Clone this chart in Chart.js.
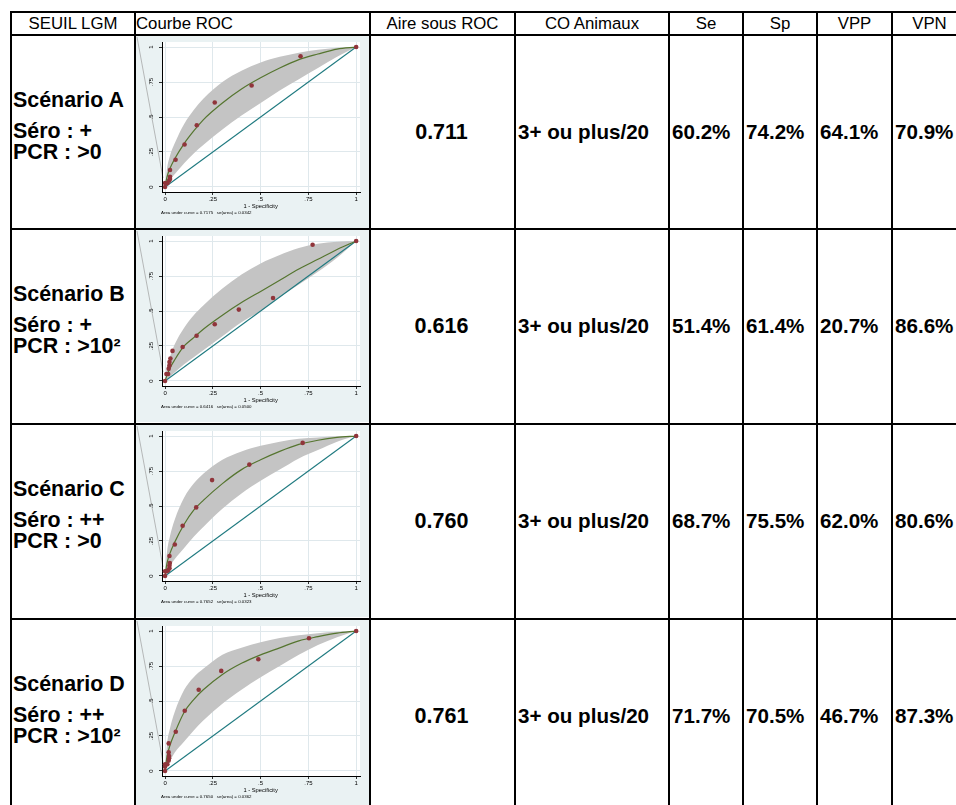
<!DOCTYPE html>
<html>
<head>
<meta charset="utf-8">
<script src="https://cdn.jsdelivr.net/npm/chart.js@4/dist/chart.umd.min.js"></script>
<style>
  body { margin:0; background:#fff; width:956px; height:805px; overflow:hidden; position:relative;
         font-family:"Liberation Sans", Arial, sans-serif; color:#000; }
  .hl { position:absolute; height:2px; background:#000; }
  .vl { position:absolute; width:2px; background:#000; }
  .t  { position:absolute; white-space:nowrap; }
  .hd { font-size:16.8px; height:22px; line-height:22px; }
  .bd { font-weight:bold; font-size:20.6px; line-height:22px; }
  .lb { font-weight:bold; font-size:21.4px; line-height:22px; }
  .au { font-weight:bold; font-size:21.5px; line-height:22px; }
  canvas { position:absolute; }
</style>
</head>
<body>
<script>
// ---- table content ----
const headers = ['SEUIL LGM', 'Courbe ROC', 'Aire sous ROC', 'CO Animaux', 'Se', 'Sp', 'VPP', 'VPN'];
const scenarios = ['Scénario A', 'Scénario B', 'Scénario C', 'Scénario D'];
const seroLabels = ['Séro : +', 'Séro : +', 'Séro : ++', 'Séro : ++'];
const pcrLabels = ['PCR : >0', 'PCR : >10²', 'PCR : >0', 'PCR : >10²'];
const aireROC = ['0.711', '0.616', '0.760', '0.761'];
const coAnimaux = ['3+ ou plus/20', '3+ ou plus/20', '3+ ou plus/20', '3+ ou plus/20'];
const seValues = ['60.2%', '51.4%', '68.7%', '71.7%'];
const spValues = ['74.2%', '61.4%', '75.5%', '70.5%'];
const vppValues = ['64.1%', '20.7%', '62.0%', '46.7%'];
const vpnValues = ['70.9%', '86.6%', '80.6%', '87.3%'];

// ---- ROC plots: empirical points, fitted curve and confidence band ----
const axisTickValues = [0, 0.25, 0.5, 0.75, 1];
const axisTickLabels = ['0', '.25', '.5', '.75', '1'];
const fitX = [0, 0.01, 0.025, 0.05, 0.1, 0.15, 0.2, 0.3, 0.4, 0.5, 0.6, 0.7, 0.8, 0.9, 1];
const diagX = [0, 1];
const diagY = [0, 1];

const ptsAx = [0, 0, 0.012, 0.021, 0.026, 0.026, 0.026, 0.055, 0.102, 0.166, 0.26, 0.453, 0.709, 1];
const ptsAy = [0, 0.028, 0.026, 0.045, 0.057, 0.073, 0.121, 0.194, 0.303, 0.441, 0.604, 0.725, 0.934, 1];
const fitAy  = [0, 0.07, 0.13, 0.2, 0.31, 0.4, 0.48, 0.6, 0.7, 0.78, 0.85, 0.91, 0.95, 0.985, 1];
const bandHiA = [0, 0.13, 0.22, 0.31, 0.45, 0.55, 0.63, 0.75, 0.83, 0.89, 0.93, 0.96, 0.98, 0.995, 1];
const bandLoA = [0, 0.02, 0.05, 0.09, 0.17, 0.24, 0.3, 0.41, 0.51, 0.6, 0.69, 0.77, 0.85, 0.93, 1];

const ptsBx = [0, 0.007, 0.016, 0.019, 0.023, 0.023, 0.028, 0.039, 0.092, 0.165, 0.26, 0.386, 0.565, 0.772, 1];
const ptsBy = [0, 0.05, 0.05, 0.088, 0.11, 0.135, 0.16, 0.215, 0.243, 0.323, 0.405, 0.51, 0.593, 0.973, 1];
const fitBy  = [0, 0.04, 0.09, 0.15, 0.25, 0.31, 0.37, 0.47, 0.56, 0.64, 0.72, 0.8, 0.87, 0.94, 1];
const bandHiB = [0, 0.1, 0.17, 0.26, 0.38, 0.47, 0.54, 0.66, 0.76, 0.84, 0.9, 0.95, 0.98, 0.995, 1];
const bandLoB = [0, 0.01, 0.03, 0.06, 0.12, 0.17, 0.22, 0.32, 0.42, 0.5, 0.6, 0.69, 0.78, 0.88, 1];

const ptsCx = [0, 0, 0.009, 0.016, 0.023, 0.023, 0.025, 0.023, 0.051, 0.092, 0.163, 0.246, 0.441, 0.72, 1];
const ptsCy = [0, 0.033, 0.033, 0.04, 0.056, 0.075, 0.092, 0.143, 0.225, 0.359, 0.49, 0.685, 0.796, 0.951, 1];
const fitCy  = [0, 0.09, 0.16, 0.24, 0.37, 0.47, 0.54, 0.66, 0.76, 0.83, 0.89, 0.94, 0.97, 0.99, 1];
const bandHiC = [0, 0.17, 0.28, 0.4, 0.56, 0.66, 0.73, 0.83, 0.89, 0.93, 0.96, 0.98, 0.99, 0.998, 1];
const bandLoC = [0, 0.03, 0.07, 0.12, 0.2, 0.28, 0.35, 0.48, 0.59, 0.68, 0.76, 0.84, 0.9, 0.96, 1];

const ptsDx = [0, 0, 0, 0.012, 0.019, 0.021, 0.021, 0.019, 0.019, 0.056, 0.103, 0.176, 0.294, 0.488, 0.753, 1];
const ptsDy = [0, 0.031, 0.048, 0.048, 0.074, 0.09, 0.107, 0.133, 0.197, 0.28, 0.43, 0.58, 0.715, 0.798, 0.948, 1];
const fitDy  = [0, 0.1, 0.18, 0.27, 0.42, 0.51, 0.58, 0.69, 0.77, 0.83, 0.88, 0.93, 0.96, 0.985, 1];
const bandHiD = [0, 0.19, 0.3, 0.42, 0.58, 0.67, 0.73, 0.83, 0.88, 0.92, 0.95, 0.97, 0.985, 0.995, 1];
const bandLoD = [0, 0.03, 0.07, 0.13, 0.21, 0.29, 0.36, 0.48, 0.58, 0.67, 0.75, 0.83, 0.9, 0.955, 1];

const aucNotes = [
  'Area under curve = 0.7175   se(area) = 0.0342',
  'Area under curve = 0.6416   se(area) = 0.0500',
  'Area under curve = 0.7652   se(area) = 0.0323',
  'Area under curve = 0.7650   se(area) = 0.0362'
];

// ---- table layout ----
const colEdges = [11, 135, 370, 515, 669, 743, 817, 892, 967];
const rowEdges = [12, 35, 229, 424, 619, 814];

function addDiv(cls, style, text) {
  const d = document.createElement('div');
  d.className = cls;
  Object.assign(d.style, style);
  if (text !== undefined) d.textContent = text;
  document.body.appendChild(d);
  return d;
}

colEdges.forEach(x => addDiv('vl', { left: (x - 1) + 'px', top: (rowEdges[0] - 1) + 'px',
  height: (rowEdges[rowEdges.length - 1] - rowEdges[0] + 2) + 'px' }));
rowEdges.forEach(y => addDiv('hl', { left: (colEdges[0] - 1) + 'px', top: (y - 1) + 'px',
  width: (colEdges[colEdges.length - 1] - colEdges[0] + 2) + 'px' }));

// header row
headers.forEach((h, i) => {
  const left = colEdges[i] + 1, width = colEdges[i + 1] - colEdges[i] - 2;
  const st = { left: left + 'px', width: width + 'px', top: (rowEdges[0] + 1) + 'px',
               textAlign: i === 1 ? 'left' : 'center' };
  addDiv('t hd', st, h);
});

// body rows
const cellTexts = [aireROC, coAnimaux, seValues, spValues, vppValues, vpnValues];
const cellAlign = ['center', 'left', 'left', 'left', 'left', 'left'];
for (let r = 0; r < 4; r++) {
  const top = rowEdges[r + 1];
  addDiv('t lb', { left: '13px', top: (top + 54) + 'px' }, scenarios[r]);
  addDiv('t lb', { left: '13px', top: (top + 85) + 'px' }, seroLabels[r]);
  addDiv('t lb', { left: '13px', top: (top + 106) + 'px' }, pcrLabels[r]);
  cellTexts.forEach((arr, k) => {
    const c = k + 2;
    const left = colEdges[c] + (cellAlign[k] === 'left' ? 3 : 1);
    const width = colEdges[c + 1] - colEdges[c] - 4;
    addDiv(k === 0 ? 't au' : 't bd', { left: left + 'px', width: width + 'px', top: (top + 86) + 'px',
                     textAlign: cellAlign[k] }, arr[r]);
  });
}

// ---- ROC charts ----
const toPts = (xs, ys) => xs.map((x, i) => ({ x: x, y: ys[i] }));

const stataFrame = {
  id: 'stataFrame',
  beforeDraw(chart) {
    const { ctx, chartArea: a, width, height } = chart;
    ctx.save();
    ctx.fillStyle = '#EAF2F3';
    ctx.fillRect(0, 0, width, height);
    ctx.fillStyle = '#FFFFFF';
    ctx.fillRect(a.left, a.top, a.right - a.left, a.bottom - a.top);
    // thin grey stroke crossing the left margin of the graph
    ctx.strokeStyle = 'rgba(150,150,150,0.8)';
    ctx.lineWidth = 0.8;
    ctx.beginPath();
    ctx.moveTo(1, 1);
    ctx.lineTo(a.left + 1, a.bottom - 14);
    ctx.stroke();
    ctx.restore();
  },
  afterDraw(chart, args, opts) {
    const { ctx, chartArea: a, scales } = chart;
    ctx.save();
    ctx.fillStyle = '#000';
    // rotated y tick labels
    ctx.font = '6px "Liberation Sans", Arial, sans-serif';
    ctx.textAlign = 'center';
    ctx.textBaseline = 'middle';
    axisTickValues.forEach((v, i) => {
      const py = scales.y.getPixelForValue(v);
      ctx.save();
      ctx.translate(a.left - 10.5, py);
      ctx.rotate(-Math.PI / 2);
      ctx.fillText(axisTickLabels[i], 0, 0);
      ctx.restore();
    });
    // x axis title
    ctx.font = '5.8px "Liberation Sans", Arial, sans-serif';
    ctx.fillText('1 - Specificity', scales.x.getPixelForValue(0.5), a.bottom + 14);
    // note
    ctx.font = '4.4px "Liberation Sans", Arial, sans-serif';
    ctx.textAlign = 'left';
    ctx.fillText(opts.note, a.left - 1, a.bottom + 21);
    ctx.restore();
  }
};

function makeRoc(r, ptsX, ptsY, fitY, hi, lo) {
  const cv = document.createElement('canvas');
  cv.width = 233; cv.height = 192;
  cv.style.left = '136px';
  cv.style.top = (rowEdges[r + 1] + 1) + 'px';
  document.body.appendChild(cv);
  const axisCommon = {
    type: 'linear',
    grid: { color: '#DFE8EC', lineWidth: 1, drawTicks: true, tickLength: 3, tickColor: '#000', tickWidth: 0.8 },
    border: { display: true, color: '#000', width: 1 },
    afterBuildTicks: s => { s.ticks = axisTickValues.map(v => ({ value: v })); }
  };
  new Chart(cv, {
    type: 'line',
    data: {
      datasets: [
        { data: toPts(ptsX, ptsY), showLine: false, pointRadius: 2.3, pointHoverRadius: 2.3,
          pointBackgroundColor: '#90353B', pointBorderColor: '#90353B', pointBorderWidth: 0, order: 0 },
        { data: toPts(fitX, fitY), borderColor: '#55752F', borderWidth: 1.2, pointRadius: 0,
          cubicInterpolationMode: 'monotone', fill: false, order: 1 },
        { data: toPts(diagX, diagY), borderColor: '#1F7A80', borderWidth: 1.1, pointRadius: 0,
          fill: false, order: 2 },
        { data: toPts(fitX, hi), borderColor: 'rgba(0,0,0,0)', borderWidth: 0, pointRadius: 0,
          cubicInterpolationMode: 'monotone', fill: '+1', backgroundColor: '#C4C4C4', order: 3 },
        { data: toPts(fitX, lo), borderColor: 'rgba(0,0,0,0)', borderWidth: 0, pointRadius: 0,
          cubicInterpolationMode: 'monotone', fill: false, order: 4 }
      ]
    },
    options: {
      responsive: false,
      animation: false,
      devicePixelRatio: 1,
      events: [],
      layout: { padding: { left: 0, right: 9, top: 6, bottom: 0 } },
      plugins: { legend: { display: false }, tooltip: { enabled: false }, stataFrame: { note: aucNotes[r] } },
      scales: {
        x: Object.assign({}, axisCommon, {
          min: -0.016, max: 1.02,
          ticks: { autoSkip: false, maxRotation: 0, minRotation: 0, padding: 1, color: '#000',
                   font: { size: 6, family: '"Liberation Sans", Arial, sans-serif' },
                   callback: (v, i) => axisTickLabels[i] },
          afterFit: s => { s.height = 36; }
        }),
        y: Object.assign({}, axisCommon, {
          min: -0.036, max: 1.036,
          ticks: { display: false },
          afterFit: s => { s.width = 26; }
        })
      }
    },
    plugins: [stataFrame]
  });
}

makeRoc(0, ptsAx, ptsAy, fitAy, bandHiA, bandLoA);
makeRoc(1, ptsBx, ptsBy, fitBy, bandHiB, bandLoB);
makeRoc(2, ptsCx, ptsCy, fitCy, bandHiC, bandLoC);
makeRoc(3, ptsDx, ptsDy, fitDy, bandHiD, bandLoD);
</script>
</body>
</html>
